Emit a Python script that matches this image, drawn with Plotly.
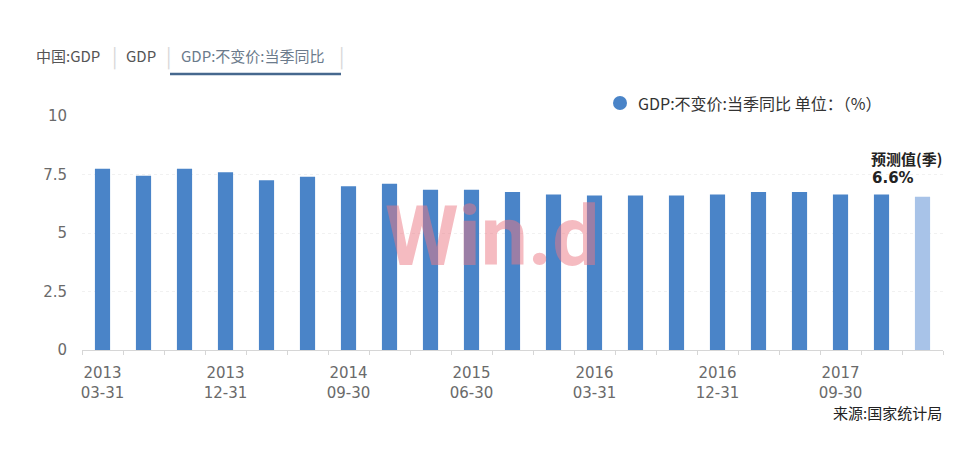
import plotly.graph_objects as go

dates = ["2013-03-31", "2013-06-30", "2013-09-30", "2013-12-31",
         "2014-03-31", "2014-06-30", "2014-09-30", "2014-12-31",
         "2015-03-31", "2015-06-30", "2015-09-30", "2015-12-31",
         "2016-03-31", "2016-06-30", "2016-09-30", "2016-12-31",
         "2017-03-31", "2017-06-30", "2017-09-30", "2017-12-31",
         "2018-03-31"]
gdp_yoy = [7.75, 7.45, 7.75, 7.6, 7.25, 7.4, 7.0, 7.1, 6.85, 6.85, 6.75,
           6.65, 6.6, 6.6, 6.6, 6.65, 6.75, 6.75, 6.65, 6.65, 6.55]
is_forecast = [False] * 20 + [True]
y_ticks = [0, 2.5, 5, 7.5, 10]
y_tick_text = ["0", "2.5", "5", "7.5", "10"]
forecast_label = "预测值(季)"
forecast_value_text = "6.6%"

W, H = 973, 454
ML, MR, MT, MB = 82, 30, 116, 104

def px(x):
    return (x - ML) / (W - ML - MR)

def py(y):
    return (H - MB - y) / (H - MT - MB)

xs = list(range(len(dates)))
colors = ["#a8c3e8" if f else "#4a84c8" for f in is_forecast]
label_idx = list(range(0, len(dates) - 2, 3))
label_text = [dates[i][:4] + "<br>" + dates[i][5:] for i in label_idx]

fig = go.Figure()
fig.add_trace(go.Bar(x=xs, y=gdp_yoy, marker=dict(color=colors, line=dict(width=0)),
                     width=0.37, showlegend=False, hoverinfo="skip"))

fig.update_layout(
    width=W, height=H,
    margin=dict(l=ML, r=MR, t=MT, b=MB),
    paper_bgcolor="white", plot_bgcolor="white",
    font=dict(family="Noto Sans CJK SC, Noto Sans, sans-serif", color="#666"),
    xaxis=dict(range=[-0.5, len(dates) - 0.5], tickmode="array", tickvals=label_idx,
               ticktext=label_text, ticks="", showgrid=False, zeroline=False,
               showline=True, linecolor="#d6d6d6", linewidth=1, ticklabelstandoff=9,
               tickfont=dict(size=15, color="#6a6a6a", family="DejaVu Sans, sans-serif"),
               minor=dict(tickmode="linear", tick0=-0.5, dtick=1, ticks="outside",
                          ticklen=4, tickcolor="#d6d6d6", showgrid=False)),
    yaxis=dict(range=[0, 10], tickmode="array", tickvals=y_ticks, ticktext=y_tick_text,
               showgrid=True, gridcolor="#f1f1f1", griddash="dot", zeroline=False,
               showline=False, ticks="", ticklabelstandoff=14,
               tickfont=dict(size=15, color="#6a6a6a", family="DejaVu Sans, sans-serif")),
    bargap=0.63,
)

ann = []
# tabs
tab_font = dict(size=15, color="#555", family="Noto Sans CJK SC, sans-serif")
ann.append(dict(text="中国:GDP", x=px(34), y=py(55), xanchor="left", yanchor="middle", font=tab_font))
ann.append(dict(text="GDP", x=px(124), y=py(55), xanchor="left", yanchor="middle", font=tab_font))
ann.append(dict(text="GDP:不变价:当季同比", x=px(179), y=py(55), xanchor="left", yanchor="middle",
                font=dict(size=15, color="#6b7b8c", family="Noto Sans CJK SC, sans-serif")))
for sx in [114, 168, 341]:
    ann.append(dict(text="|", x=px(sx), y=py(55), xanchor="center", yanchor="middle",
                    font=dict(size=20, color="#d8d8d8")))
# legend
ann.append(dict(text="GDP:不变价:当季同比 单位：（%）", x=px(636), y=py(103), xanchor="left", yanchor="middle",
                font=dict(size=16, color="#333", family="Noto Sans CJK SC, sans-serif")))
# forecast label
ann.append(dict(text="<b>" + forecast_label + "</b>", x=px(869), y=py(158), xanchor="left", yanchor="middle",
                font=dict(size=15, color="#222", family="Noto Sans CJK SC, sans-serif")))
ann.append(dict(text="<b>" + forecast_value_text + "</b>", x=px(870), y=py(178), xanchor="left", yanchor="middle",
                font=dict(size=15, color="#222", family="DejaVu Sans, sans-serif")))
# source
ann.append(dict(text="来源:国家统计局", x=px(944), y=py(412), xanchor="right", yanchor="middle",
                font=dict(size=15, color="#222", family="Noto Sans CJK SC, sans-serif")))
# watermark
ann.append(dict(text="<b>Win.d</b>", x=px(492), y=py(236), xanchor="center", yanchor="middle",
                font=dict(size=84, color="rgba(236,120,132,0.5)", family="Roboto, sans-serif")))
for a in ann:
    a.update(xref="paper", yref="paper", showarrow=False)
fig.update_layout(annotations=ann)

fig.update_layout(shapes=[
    dict(type="line", xref="paper", yref="paper", x0=px(170), x1=px(341), y0=py(74), y1=py(74),
         line=dict(color="#46688e", width=2.5)),
    dict(type="circle", xref="paper", yref="paper", x0=px(613), x1=px(627), y0=py(96), y1=py(110),
         fillcolor="#4a84c8", line=dict(width=0)),
])

fig.write_html("out.html")
